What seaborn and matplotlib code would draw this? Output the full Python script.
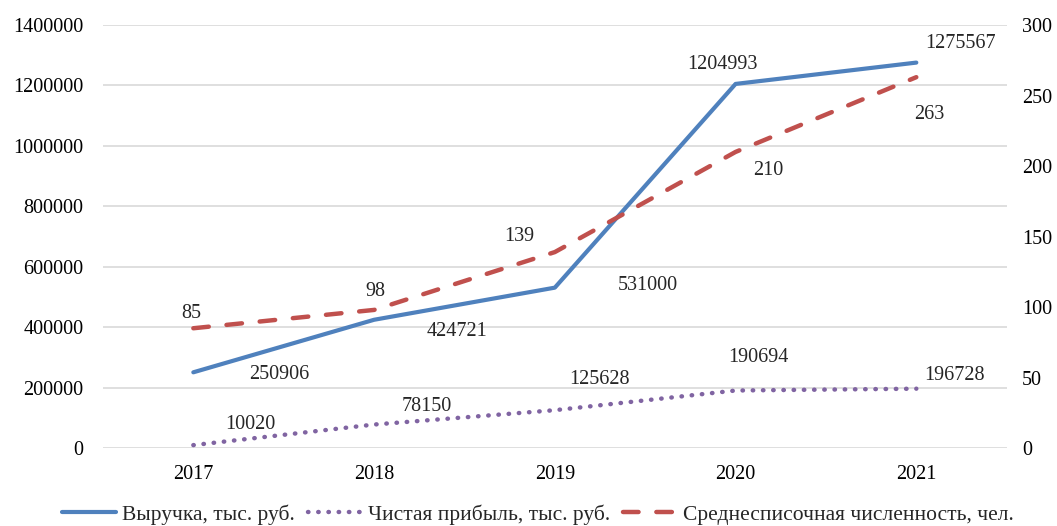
import matplotlib
matplotlib.use("Agg")
import matplotlib.pyplot as plt
import seaborn as sns
import pandas as pd

# ---------- data ----------
years = ['2017', '2018', '2019', '2020', '2021']
revenue = [250906, 424721, 531000, 1204993, 1275567]
profit = [10020, 78150, 125628, 190694, 196728]
staff = [85, 98, 139, 210, 263]

lbl_rev = 'Выручка, тыс. руб.'
lbl_prof = 'Чистая прибыль, тыс. руб.'
lbl_staff = 'Среднесписочная численность, чел.'

sns.set_style("white")
plt.rcParams['font.family'] = ['Liberation Serif', 'DejaVu Serif']
plt.rcParams['font.size'] = 14.5

df = pd.DataFrame({'year': years, 'revenue': revenue, 'profit': profit, 'staff': staff})
df['x'] = range(len(df))

blue, purple, red = '#4f81bd', '#8064a2', '#c0504d'

fig = plt.figure(figsize=(10.57, 5.26), dpi=100)
ax = fig.add_axes([0.0974, 0.148, 0.855, 0.8045])
ax2 = ax.twinx()

sns.lineplot(data=df, x='x', y='revenue', ax=ax, color=blue, linewidth=3,
             label=lbl_rev, legend=False)
sns.lineplot(data=df, x='x', y='profit', ax=ax, color=purple, linewidth=3.2,
             linestyle=(0, (0.1, 2.2)), label=lbl_prof, legend=False)
sns.lineplot(data=df, x='x', y='staff', ax=ax2, color=red, linewidth=3.2,
             linestyle=(0, (3.5, 4)), label=lbl_staff, legend=False)
for l in ax.lines + ax2.lines:
    l.set_solid_capstyle('round')
    l.set_dash_capstyle('round')

ax.set_xlim(-0.5, 4.5)
ax.set_ylim(0, 1400000)
ax.set_yticks(range(0, 1400001, 200000))
ax.ticklabel_format(axis='y', style='plain', useOffset=False)
ax2.set_ylim(0, 300)
ax2.set_yticks(range(0, 301, 50))
ax.set_xticks(df['x'])
ax.set_xticklabels(years)
ax.set_xlabel('')
ax.set_ylabel('')
ax2.set_ylabel('')
ax.grid(axis='y', color='#d9d9d9', linewidth=1.2)
ax.set_axisbelow(True)
for a in (ax, ax2):
    for s in a.spines.values():
        s.set_visible(False)
    a.tick_params(length=0, labelsize=14.5, colors='black')
ax.tick_params(axis='y', pad=14)
ax.tick_params(axis='x', pad=12)
ax2.tick_params(axis='y', pad=11)

# ---------- data labels (offsets in pixels from the point) ----------
off_rev = [(86, -2), (83, -12), (93, 2), (-13, 19), (44, 19)]
off_prof = [(57, 21), (53, 18), (45, 31), (23, 33), (38, 13)]
off_staff = [(-2, 15), (1, 18), (-36, 16), (33, -19), (13, -37)]

for i, v in enumerate(revenue):
    ax.annotate(str(v), (i, v), xytext=off_rev[i], textcoords='offset pixels',
                ha='center', va='center', fontsize=14.5)
for i, v in enumerate(profit):
    ax.annotate(str(v), (i, v), xytext=off_prof[i], textcoords='offset pixels',
                ha='center', va='center', fontsize=14.5)
for i, v in enumerate(staff):
    ax2.annotate(str(v), (i, v), xytext=off_staff[i], textcoords='offset pixels',
                 ha='center', va='center', fontsize=14.5)

handles = ax.lines[:2] + ax2.lines[:1]
fig.legend(handles, [lbl_rev, lbl_prof, lbl_staff], loc='center', bbox_to_anchor=(0.509, 0.022),
           ncol=3, frameon=False, fontsize=15.5, handlelength=2.5, handletextpad=0.3,
           columnspacing=0.6)

fig.savefig('out.png', dpi=100)
